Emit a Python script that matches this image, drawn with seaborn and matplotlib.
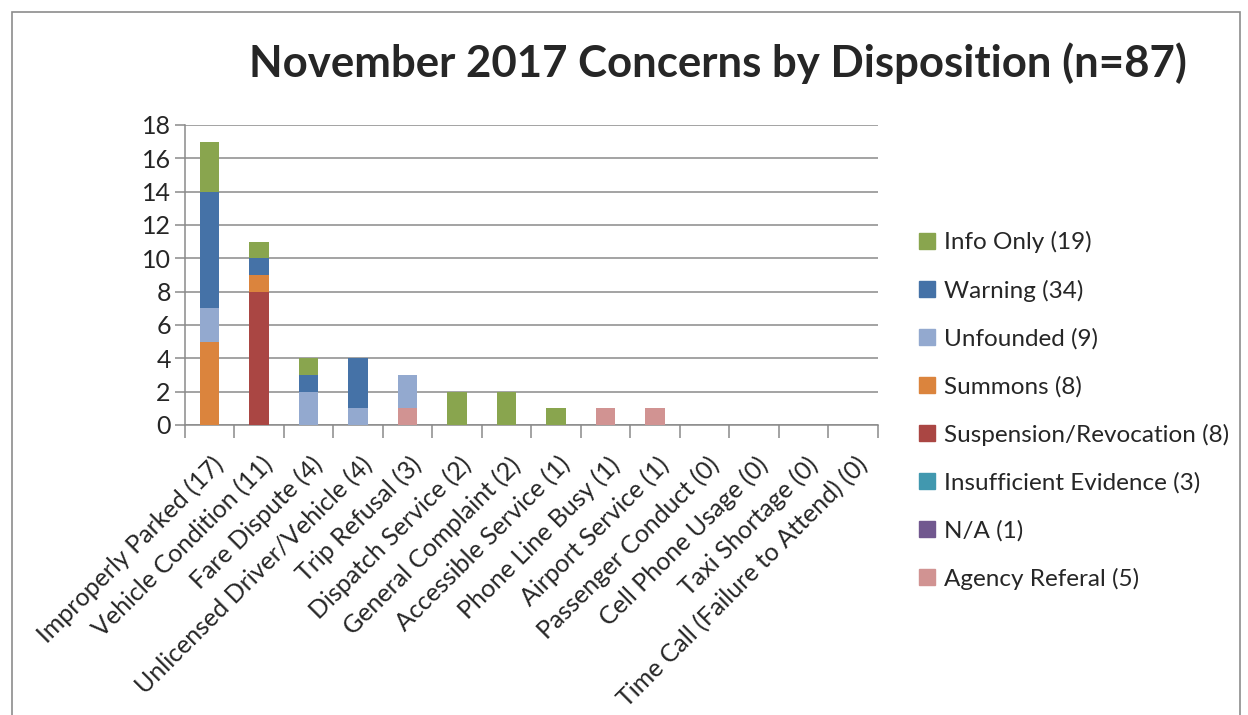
import numpy as np
import pandas as pd
import matplotlib.pyplot as plt
import matplotlib.patches as mpatches
from matplotlib.transforms import ScaledTranslation
import seaborn as sns

# Categories along the x axis
categories = [
    'Improperly Parked (17)', 'Vehicle Condition (11)', 'Fare Dispute (4)',
    'Unlicensed Driver/Vehicle (4)', 'Trip Refusal (3)', 'Dispatch Service (2)',
    'General Complaint (2)', 'Accessible Service (1)', 'Phone Line Busy (1)',
    'Airport Service (1)', 'Passenger Conduct (0)', 'Cell Phone Usage (0)',
    'Taxi Shortage (0)', 'Time Call (Failure to Attend) (0)'
]

# Disposition counts per category (stack order: bottom -> top)
agency_referal = [0, 0, 0, 0, 1, 0, 0, 0, 1, 1, 0, 0, 0, 0]
n_a            = [0, 0, 0, 0, 0, 0, 0, 0, 0, 0, 0, 0, 0, 0]
insufficient   = [0, 0, 0, 0, 0, 0, 0, 0, 0, 0, 0, 0, 0, 0]
suspension     = [0, 8, 0, 0, 0, 0, 0, 0, 0, 0, 0, 0, 0, 0]
summons        = [5, 1, 0, 0, 0, 0, 0, 0, 0, 0, 0, 0, 0, 0]
unfounded      = [2, 0, 2, 1, 2, 0, 0, 0, 0, 0, 0, 0, 0, 0]
warning        = [7, 1, 1, 3, 0, 0, 0, 0, 0, 0, 0, 0, 0, 0]
info_only      = [3, 1, 1, 0, 0, 2, 2, 1, 0, 0, 0, 0, 0, 0]

series_labels = ['Agency Referal (5)', 'N/A (1)', 'Insufficient Evidence (3)',
                 'Suspension/Revocation (8)', 'Summons (8)', 'Unfounded (9)',
                 'Warning (34)', 'Info Only (19)']
series_values = [agency_referal, n_a, insufficient, suspension, summons,
                 unfounded, warning, info_only]
series_colors = ['#D19392', '#71588F', '#4198AF', '#AA4643', '#DB843D',
                 '#93A9CF', '#4572A7', '#89A54E']

df = pd.DataFrame(dict(zip(series_labels, series_values)), index=categories)
cum = df.cumsum(axis=1)

sns.set_theme(style='white')
plt.rcParams['font.family'] = ['Lato', 'DejaVu Sans']

fig = plt.figure(figsize=(12.48, 7.15), dpi=100)
ax = fig.add_axes([0.148, 0.4056, 0.5555, 0.4196])

# frame around the chart area
fig.patches.append(mpatches.Rectangle((0.0096, -0.05), 0.984, 1.033, transform=fig.transFigure,
                                      fill=False, edgecolor='#8c8c8c', linewidth=1.2))

# draw cumulative bars from the top series downward so lower ones sit on top
for label, color in zip(series_labels[::-1], series_colors[::-1]):
    plot_df = pd.DataFrame({'cat': categories, 'val': cum[label].values})
    sns.barplot(data=plot_df, x='cat', y='val', color=color, width=0.39,
                saturation=1, linewidth=0, ax=ax, zorder=3)

ax.set_ylim(0, 18)
ax.set_xlim(-0.5, len(categories) - 0.5)
ax.set_yticks(np.arange(0, 19, 2))
ax.yaxis.grid(True, color='#8a8a8a', linewidth=1.1, zorder=0)
ax.set_axisbelow(True)
ax.set_xlabel('')
ax.set_ylabel('')

for side in ['top', 'right']:
    ax.spines[side].set_visible(False)
for side in ['left', 'bottom']:
    ax.spines[side].set_color('#8a8a8a')
    ax.spines[side].set_linewidth(1.1)

ax.tick_params(axis='y', which='major', left=True, length=7, width=1.1, color='#8a8a8a',
               labelsize=18, pad=3)
ax.set_xticks(np.arange(-0.5, len(categories), 1.0), minor=True)
ax.tick_params(axis='x', which='minor', bottom=True, length=9, width=1.1, color='#8a8a8a')
ax.tick_params(axis='x', which='major', bottom=False, labelsize=18, pad=14)
ax.set_xticks(range(len(categories)))
ax.set_xticklabels(categories, rotation=45, ha='right', rotation_mode='anchor')
offset = ScaledTranslation(2 / 100, 0, fig.dpi_scale_trans)
for lbl in ax.get_xticklabels():
    lbl.set_transform(lbl.get_transform() + offset)

handles = [mpatches.Patch(color=c, label=l) for l, c in zip(series_labels[::-1], series_colors[::-1])]
fig.legend(handles=handles, loc='upper left', bbox_to_anchor=(0.7285, 0.69), frameon=False,
           fontsize=17.5, handlelength=0.65, handleheight=0.65, handletextpad=0.4,
           labelspacing=1.08, borderaxespad=0)

fig.text(0.575, 0.912, 'November 2017 Concerns by Disposition (n=87)', ha='center', va='center',
         fontsize=31.5, fontweight='bold')

fig.savefig('out.png', dpi=100)
